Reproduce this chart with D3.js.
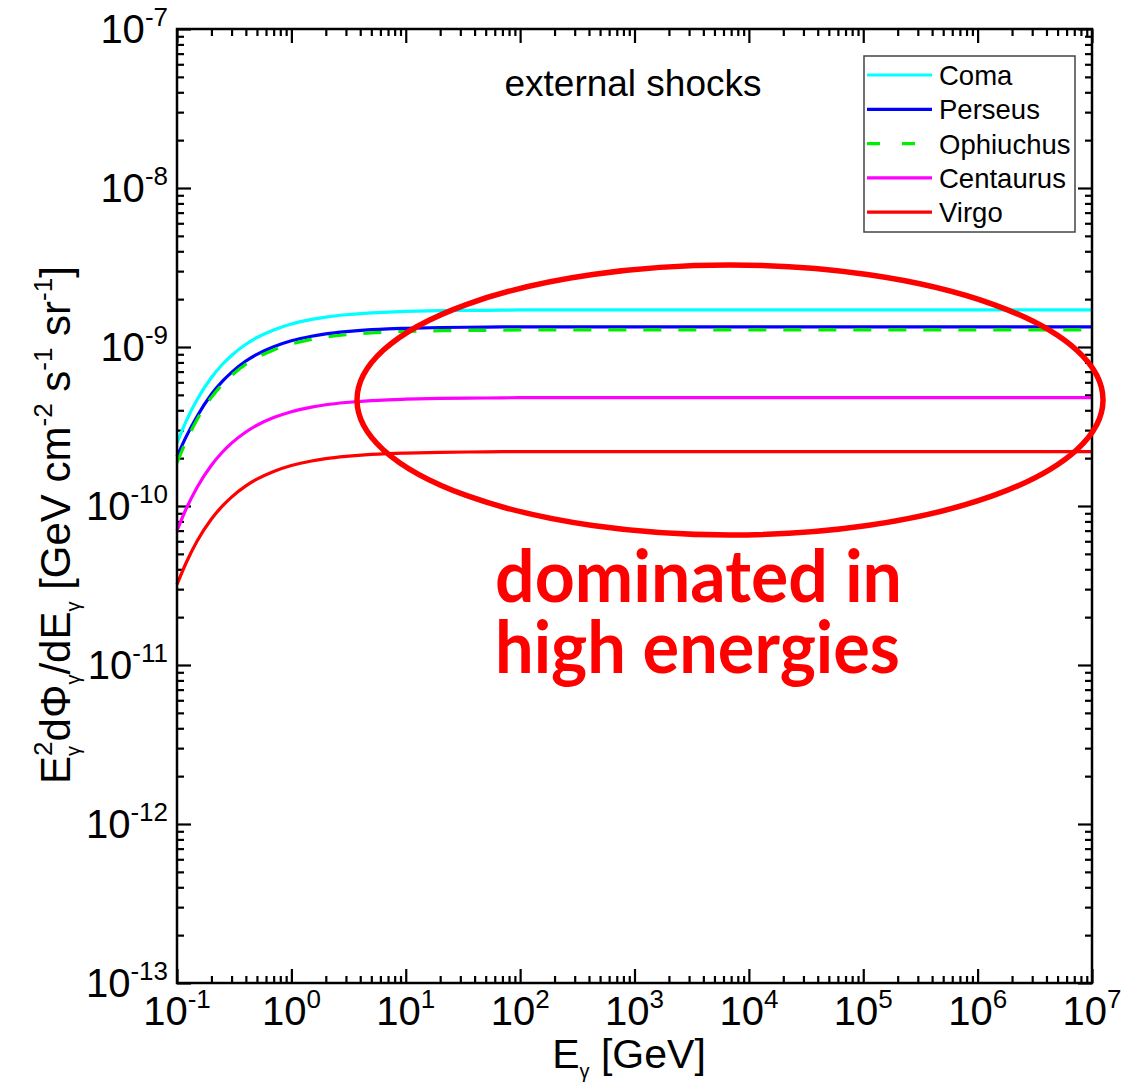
<!DOCTYPE html>
<html><head><meta charset="utf-8">
<script src="https://cdn.jsdelivr.net/npm/d3@7"></script>
<style>body{margin:0;background:#fff}svg{display:block}</style>
</head><body>
<svg id="chart" width="1143" height="1087"></svg>
<script>
// Gamma-ray energy grid [GeV]
const energies = [0.1, 0.12, 0.15, 0.2, 0.25, 0.3, 0.4, 0.5, 0.7, 1, 1.5, 2, 3, 5, 7, 10, 20, 50, 100, 1e3, 1e4, 1e5, 1e6, 1e7];

// E^2 dPhi/dE [GeV cm^-2 s^-1 sr^-1] per cluster
const coma      = [2.49e-10, 3.41e-10, 4.68e-10, 6.43e-10, 7.79e-10, 8.85e-10, 1.041e-9, 1.147e-9, 1.281e-9, 1.396e-9, 1.492e-9, 1.543e-9, 1.595e-9, 1.640e-9, 1.659e-9, 1.673e-9, 1.692e-9, 1.702e-9, 1.71e-9, 1.71e-9, 1.71e-9, 1.71e-9, 1.71e-9, 1.71e-9];
const perseus   = [2.05e-10, 2.72e-10, 3.67e-10, 5.04e-10, 6.10e-10, 6.93e-10, 8.16e-10, 8.99e-10, 1.004e-9, 1.094e-9, 1.169e-9, 1.209e-9, 1.250e-9, 1.285e-9, 1.300e-9, 1.311e-9, 1.326e-9, 1.334e-9, 1.34e-9, 1.34e-9, 1.34e-9, 1.34e-9, 1.34e-9, 1.34e-9];
const ophiuchus = [1.87e-10, 2.55e-10, 3.50e-10, 4.82e-10, 5.83e-10, 6.62e-10, 7.79e-10, 8.58e-10, 9.59e-10, 1.045e-9, 1.117e-9, 1.155e-9, 1.194e-9, 1.227e-9, 1.242e-9, 1.252e-9, 1.266e-9, 1.274e-9, 1.28e-9, 1.28e-9, 1.28e-9, 1.28e-9, 1.28e-9, 1.28e-9];
const centaurus = [7.0e-11, 9.57e-11, 1.313e-10, 1.806e-10, 2.186e-10, 2.484e-10, 2.921e-10, 3.219e-10, 3.597e-10, 3.919e-10, 4.188e-10, 4.331e-10, 4.478e-10, 4.603e-10, 4.656e-10, 4.697e-10, 4.748e-10, 4.778e-10, 4.80e-10, 4.80e-10, 4.80e-10, 4.80e-10, 4.80e-10, 4.80e-10];
const virgo     = [3.21e-11, 4.38e-11, 6.02e-11, 8.28e-11, 1.002e-10, 1.138e-10, 1.339e-10, 1.475e-10, 1.649e-10, 1.796e-10, 1.920e-10, 1.985e-10, 2.052e-10, 2.110e-10, 2.134e-10, 2.153e-10, 2.176e-10, 2.190e-10, 2.20e-10, 2.20e-10, 2.20e-10, 2.20e-10, 2.20e-10, 2.20e-10];

const seriesNames  = ["Coma", "Perseus", "Ophiuchus", "Centaurus", "Virgo"];
const seriesValues = [coma, perseus, ophiuchus, centaurus, virgo];
const seriesColors = ["#00ffff", "#0000ff", "#00ee00", "#ff00ff", "#ff0000"];
const seriesDashed = [false, false, true, false, false];

const xTickExponents = [-1, 0, 1, 2, 3, 4, 5, 6, 7];
const yTickExponents = [-7, -8, -9, -10, -11, -12, -13];

const panelTitle = "external shocks";
const noteLines = ["dominated in", "high energies"];

const svg = d3.select("#chart");
const L = 177, R = 1092, T = 29, B = 983;

const x = d3.scaleLog().domain([1e-1, 1e7]).range([L, R]);
const y = d3.scaleLog().domain([1e-13, 1e-7]).range([B, T]);

const font = "Liberation Sans, Arial, sans-serif";

// minor ticks 2..9 within each decade
function minors(lo, hi) {
  const out = [];
  for (let k = lo; k < hi; k++) for (let m = 2; m <= 9; m++) out.push(m * Math.pow(10, k));
  return out;
}
const xMajor = xTickExponents.map(e => Math.pow(10, e));
const yMajor = yTickExponents.map(e => Math.pow(10, e));
const xMinor = minors(-1, 7);
const yMinor = minors(-13, -7);

function tickAxis(axisFn, scale, values, size, transform) {
  const g = svg.append("g").attr("transform", transform)
    .call(axisFn(scale).tickValues(values).tickSize(-size).tickFormat(""));
  g.select(".domain").remove();
  g.selectAll("line").attr("stroke", "#000").attr("stroke-width", 2.2);
}
// inward ticks on all four sides
tickAxis(d3.axisBottom, x, xMajor, 14, `translate(0,${B})`);
tickAxis(d3.axisBottom, x, xMinor, 7, `translate(0,${B})`);
tickAxis(d3.axisTop, x, xMajor, 14, `translate(0,${T})`);
tickAxis(d3.axisTop, x, xMinor, 7, `translate(0,${T})`);
tickAxis(d3.axisLeft, y, yMajor, 14, `translate(${L},0)`);
tickAxis(d3.axisLeft, y, yMinor, 7, `translate(${L},0)`);
tickAxis(d3.axisRight, y, yMajor, 14, `translate(${R},0)`);
tickAxis(d3.axisRight, y, yMinor, 7, `translate(${R},0)`);

// curves
const line = d3.line().x(d => x(d[0])).y(d => y(d[1])).curve(d3.curveMonotoneX);
const curves = svg.append("g");
seriesValues.forEach((vals, i) => {
  curves.append("path")
    .datum(energies.map((e, j) => [e, vals[j]]))
    .attr("d", line)
    .attr("fill", "none")
    .attr("stroke", seriesColors[i])
    .attr("stroke-width", 3.2)
    .attr("stroke-dasharray", seriesDashed[i] ? "18,17" : null);
});

// frame
svg.append("rect").attr("x", L).attr("y", T).attr("width", R - L).attr("height", B - T)
  .attr("fill", "none").attr("stroke", "#000").attr("stroke-width", 2.5);

// tick labels with superscript exponents
svg.append("g").selectAll("text").data(xTickExponents).join("text")
  .attr("x", e => x(Math.pow(10, e))).attr("y", 1025)
  .attr("text-anchor", "middle").attr("font-family", font).attr("font-size", 40)
  .each(function (e) {
    const t = d3.select(this);
    t.append("tspan").text("10");
    t.append("tspan").attr("dy", -17).attr("font-size", 26).text(e);
  });
svg.append("g").selectAll("text").data(yTickExponents).join("text")
  .attr("x", 168).attr("y", e => y(Math.pow(10, e)) + 14)
  .attr("text-anchor", "end").attr("font-family", font).attr("font-size", 40)
  .each(function (e) {
    const t = d3.select(this);
    t.append("tspan").text("10");
    t.append("tspan").attr("dy", -17).attr("font-size", 26).text(e);
  });

// axis titles
const xt = svg.append("text").attr("x", 629).attr("y", 1068).attr("text-anchor", "middle")
  .attr("font-family", font).attr("font-size", 41);
xt.append("tspan").text("E");
xt.append("tspan").attr("dy", 10).attr("font-size", 20).text("γ");
xt.append("tspan").attr("dy", -10).text(" [GeV]");

const yt = svg.append("text").attr("transform", "translate(70,525) rotate(-90)")
  .attr("text-anchor", "middle").attr("font-family", font).attr("font-size", 42);
yt.append("tspan").text("E");
yt.append("tspan").attr("dy", 10).attr("font-size", 20).text("γ");
yt.append("tspan").attr("dx", -10).attr("dy", -28).attr("font-size", 26).text("2");
yt.append("tspan").attr("dy", 18).text("dΦ");
yt.append("tspan").attr("dy", 10).attr("font-size", 20).text("γ");
yt.append("tspan").attr("dy", -10).text("/dE");
yt.append("tspan").attr("dy", 10).attr("font-size", 20).text("γ");
yt.append("tspan").attr("dy", -10).text(" [GeV cm");
yt.append("tspan").attr("dy", -18).attr("font-size", 26).text("-2");
yt.append("tspan").attr("dy", 18).text(" s");
yt.append("tspan").attr("dy", -18).attr("font-size", 26).text("-1");
yt.append("tspan").attr("dy", 18).text(" sr");
yt.append("tspan").attr("dy", -18).attr("font-size", 26).text("-1");
yt.append("tspan").attr("dy", 18).text("]");

// panel title
svg.append("text").attr("x", 633).attr("y", 96).attr("text-anchor", "middle")
  .attr("font-family", font).attr("font-size", 37).text(panelTitle);

// legend
const lg = svg.append("g");
lg.append("rect").attr("x", 864).attr("y", 56).attr("width", 211).attr("height", 176)
  .attr("fill", "#fff").attr("stroke", "#444").attr("stroke-width", 1.5);
seriesNames.forEach((name, i) => {
  const yy = 75 + i * 34.3;
  lg.append("line").attr("x1", 867).attr("x2", 932).attr("y1", yy).attr("y2", yy)
    .attr("stroke", seriesColors[i]).attr("stroke-width", 3.2)
    .attr("stroke-dasharray", seriesDashed[i] ? "13,22" : null);
  lg.append("text").attr("x", 939).attr("y", yy + 10)
    .attr("font-family", font).attr("font-size", 27.5).text(name);
});

// highlight ellipse and two-line note
svg.append("ellipse").attr("cx", 730).attr("cy", 400).attr("rx", 373).attr("ry", 135)
  .attr("fill", "none").attr("stroke", "#ff0000").attr("stroke-width", 5.5);
const note = svg.append("text")
  .attr("font-family", "Lato, Open Sans, sans-serif").attr("font-weight", 700)
  .attr("font-size", 72).attr("fill", "#ff0000");
noteLines.forEach((s, i) => {
  note.append("tspan").attr("x", 495).attr("y", 602 + i * 71)
    .attr("textLength", i === 0 ? 407 : 405).attr("lengthAdjust", "spacingAndGlyphs")
    .text(s);
});
</script>
</body></html>
